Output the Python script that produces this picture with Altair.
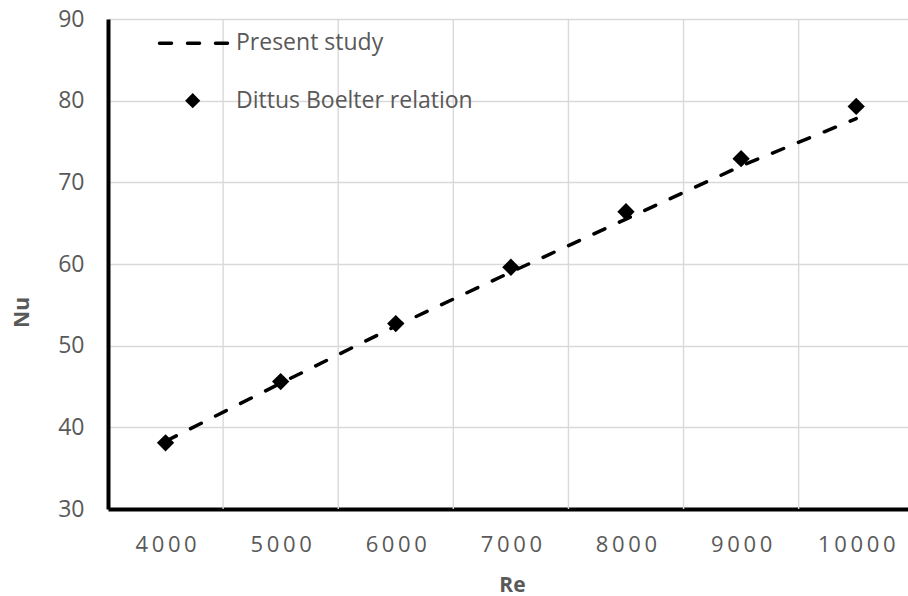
import altair as alt
import pandas as pd

# Reynolds numbers and Nusselt numbers for the two series
re_values = [4000, 5000, 6000, 7000, 8000, 9000, 10000]
nu_present_study = [38.3, 45.4, 52.4, 59.0, 65.5, 72.0, 77.8]
nu_dittus_boelter = [38.1, 45.6, 52.7, 59.6, 66.4, 72.9, 79.3]

# vertical gridlines sit between the Re categories
re_gridlines = [4500, 5500, 6500, 7500, 8500, 9500]
nu_ticks = [30, 40, 50, 60, 70, 80, 90]

legend_labels = ["Present study", "Dittus Boelter relation"]

FONT = "Open Sans"
TEXT_GREY = "#595959"
GRID_GREY = "#d9d9d9"
DASH = [12, 16]

df = pd.DataFrame({"Re": re_values, "present": nu_present_study, "dittus": nu_dittus_boelter})
grid_df = pd.DataFrame({"Re": re_gridlines})
one_row = alt.Data(values=[{}])

x_scale = alt.Scale(domain=[3500, 10450], nice=False, zero=False)
y_scale = alt.Scale(domain=[30, 90], nice=False, zero=False)

x_axis = alt.Axis(
    values=re_values, grid=False, ticks=False, tickSize=0,
    domainColor="black", domainWidth=4,
    labelFont=FONT, labelFontSize=22, labelColor=TEXT_GREY, labelPadding=25,
    labelExpr="join(split(format(datum.value, 'd'), ''), '\u2009')",
    title="Re", titleFont=FONT, titleFontSize=21, titleFontWeight="bold",
    titleColor=TEXT_GREY, titleX=404, titleY=76, titleBaseline="middle",
)
y_axis = alt.Axis(
    values=nu_ticks, grid=True, gridColor=GRID_GREY, gridWidth=1.4,
    ticks=False, tickSize=0,
    domainColor="black", domainWidth=4,
    labelFont=FONT, labelFontSize=23, labelColor=TEXT_GREY, labelPadding=24,
    title="Nu", titleFont=FONT, titleFontSize=21, titleFontWeight="bold",
    titleColor=TEXT_GREY, titleX=-86, titleY=293, titleAngle=270,
    titleAlign="center", titleBaseline="middle",
)

x_enc = alt.X("Re:Q", scale=x_scale, axis=x_axis)

vgrid = alt.Chart(grid_df).mark_rule(color=GRID_GREY, strokeWidth=1.4).encode(x=x_enc)

present = alt.Chart(df).mark_line(
    color="black", strokeWidth=3.5, strokeDash=DASH, strokeCap="round"
).encode(x=x_enc, y=alt.Y("present:Q", scale=y_scale, axis=y_axis))

dittus = alt.Chart(df).mark_point(
    shape="diamond", filled=True, color="black", opacity=1, size=300
).encode(x=x_enc, y=alt.Y("dittus:Q", scale=y_scale, axis=y_axis))

# legend drawn inside the plot area, top left
leg_line = alt.Chart(one_row).mark_rule(
    color="black", strokeWidth=3.5, strokeDash=DASH, strokeCap="round"
).encode(x=alt.value(51.5), x2=alt.value(120), y=alt.value(24.3))
leg_point = alt.Chart(one_row).mark_point(
    shape="diamond", filled=True, color="black", opacity=1, size=230
).encode(x=alt.value(84.7), y=alt.value(81.7))
leg_text1 = alt.Chart(one_row).mark_text(
    font=FONT, fontSize=23, color=TEXT_GREY, align="left", baseline="middle"
).encode(x=alt.value(128), y=alt.value(24), text=alt.value(legend_labels[0]))
leg_text2 = alt.Chart(one_row).mark_text(
    font=FONT, fontSize=23, color=TEXT_GREY, align="left", baseline="middle"
).encode(x=alt.value(128), y=alt.value(82), text=alt.value(legend_labels[1]))

chart = alt.layer(
    vgrid, present, dittus, leg_line, leg_point, leg_text1, leg_text2
).properties(
    width=800, height=490,
    autosize=alt.AutoSizeParams(type="none"),
    padding={"left": 108, "top": 19, "right": 0, "bottom": 87},
    background="white",
).configure_view(strokeWidth=0)

chart.save("out.html", embed_options={"renderer": "svg", "actions": False})
